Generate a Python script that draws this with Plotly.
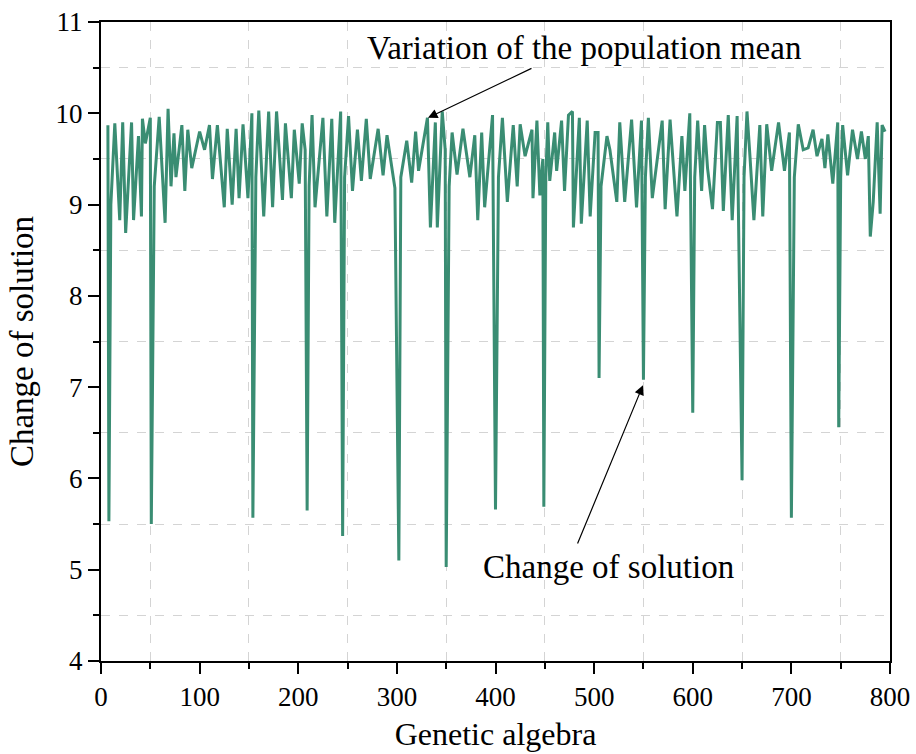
import plotly.graph_objects as go

generation = [
    7, 8, 10, 14, 19, 22, 25, 31, 33, 38, 41, 42, 45, 50, 51, 54, 59, 65, 68, 71,
    74, 76, 82, 85, 88, 92, 100, 105, 110, 113, 118, 125, 128, 133, 137, 140, 144, 149, 153, 154,
    157, 160, 165, 170, 174, 178, 184, 187, 193, 196, 201, 204, 207, 209, 211, 214, 217, 225, 229, 234,
    237, 243, 245, 247, 251, 255, 260, 264, 269, 273, 281, 286, 290, 298, 302, 304, 310, 315, 319, 322,
    331, 334, 339, 341, 346, 349, 350, 353, 356, 361, 367, 374, 379, 382, 386, 389, 397, 400, 403, 407,
    412, 418, 422, 425, 430, 437, 438, 442, 445, 448, 449, 451, 453, 455, 460, 462, 467, 470, 474, 478,
    479, 485, 487, 493, 496, 501, 504, 505, 507, 513, 516, 523, 526, 531, 538, 543, 548, 550, 552, 555,
    559, 569, 572, 577, 584, 589, 592, 597, 600, 602, 605, 609, 612, 615, 620, 625, 628, 631, 636, 640,
    645, 650, 652, 655, 658, 662, 668, 671, 675, 680, 687, 693, 698, 700, 703, 707, 712, 717, 722, 726,
    731, 734, 737, 742, 747, 748, 750, 752, 757, 762, 767, 771, 775, 778, 780, 783, 787, 790, 792, 795,
]
solution = [
    9.87, 5.53, 9.00, 9.89, 8.83, 9.90, 8.69, 9.90, 8.83, 9.75, 8.87, 9.94, 9.67, 9.95, 5.50, 9.20, 9.96, 8.80, 10.05, 9.20,
    9.78, 9.30, 9.87, 9.15, 9.82, 9.40, 9.80, 9.60, 9.87, 9.28, 9.87, 8.97, 9.83, 9.00, 9.83, 9.07, 9.88, 9.07, 10.00, 5.57,
    9.30, 10.03, 8.87, 10.02, 8.97, 10.02, 9.05, 9.89, 9.07, 9.82, 9.23, 9.89, 9.60, 5.65, 9.20, 9.98, 8.97, 9.95, 8.87, 9.94,
    8.80, 10.02, 5.37, 9.30, 9.97, 9.15, 9.82, 9.26, 9.94, 9.28, 9.83, 9.32, 9.76, 9.18, 5.10, 9.30, 9.70, 9.24, 9.80, 9.37,
    9.95, 8.75, 9.90, 8.75, 10.02, 9.60, 5.03, 9.20, 9.79, 9.33, 9.83, 9.30, 9.76, 8.83, 9.79, 8.97, 9.98, 5.66, 9.30, 9.95,
    9.03, 9.87, 9.20, 9.88, 9.53, 9.82, 9.07, 9.92, 9.10, 9.50, 5.69, 9.30, 9.90, 9.26, 9.79, 9.37, 9.92, 9.15, 9.98, 10.02,
    8.75, 9.95, 8.79, 9.92, 8.87, 9.79, 9.79, 7.10, 9.20, 9.75, 9.60, 9.03, 9.90, 9.03, 9.93, 8.97, 9.92, 7.08, 9.30, 9.95,
    9.07, 9.92, 8.95, 9.93, 8.87, 9.75, 9.15, 10.00, 6.72, 9.30, 9.92, 9.15, 9.87, 9.40, 8.95, 9.90, 9.90, 8.93, 9.98, 8.83,
    9.97, 5.98, 9.30, 10.02, 9.53, 8.83, 9.87, 8.87, 9.88, 9.37, 9.90, 9.37, 9.79, 5.57, 9.30, 9.88, 9.60, 9.62, 9.82, 9.53,
    9.72, 9.40, 9.77, 9.23, 9.90, 6.56, 9.30, 9.87, 9.32, 9.82, 9.50, 9.80, 9.50, 9.75, 8.65, 9.03, 9.90, 8.90, 9.87, 9.80,
]

x_ticks = [0, 100, 200, 300, 400, 500, 600, 700, 800]
x_minor = [50, 150, 250, 350, 450, 550, 650, 750]
y_ticks = [4, 5, 6, 7, 8, 9, 10, 11]
y_minor = [4.5, 5.5, 6.5, 7.5, 8.5, 9.5, 10.5]

label_mean = "Variation of the population mean"
label_solution = "Change of solution"

fig = go.Figure()
fig.add_trace(go.Scatter(
    x=generation, y=solution, mode="lines",
    line=dict(color="#3a8d73", width=3),
    showlegend=False,
))

axis_common = dict(
    showline=True, linewidth=2, linecolor="black", mirror=True,
    ticks="outside", ticklen=11, tickwidth=2, tickcolor="black",
    showgrid=False, zeroline=False, automargin=False,
    tickfont=dict(family="Liberation Serif", size=27, color="black"),
)

fig.update_xaxes(
    range=[0, 800], tickvals=x_ticks,
    title=dict(text="Genetic algebra", font=dict(family="Liberation Serif", size=32, color="black"), standoff=11),
    minor=dict(tickvals=x_minor, ticks="outside", ticklen=6, tickwidth=2, tickcolor="black",
               showgrid=True, gridcolor="#d4d4d4", griddash="dash", gridwidth=1),
    **axis_common,
)
fig.update_yaxes(
    range=[4, 11], tickvals=y_ticks,
    title=dict(text="Change of solution", font=dict(family="Liberation Serif", size=33, color="black"), standoff=12),
    minor=dict(tickvals=y_minor, ticks="outside", ticklen=6, tickwidth=2, tickcolor="black",
               showgrid=True, gridcolor="#d4d4d4", griddash="dash", gridwidth=1),
    **axis_common,
)

fig.add_annotation(x=489.7, y=10.715, xref="x", yref="y", text=label_mean, showarrow=False,
                   font=dict(family="Liberation Serif", size=33, color="black"))
fig.add_annotation(x=515, y=5.03, xref="x", yref="y", text=label_solution, showarrow=False,
                   font=dict(family="Liberation Serif", size=33, color="black"))
fig.add_annotation(x=331.5, y=9.95, ax=438, ay=10.5, xref="x", yref="y", axref="x", ayref="y",
                   text="", showarrow=True, arrowhead=2, arrowsize=1.6, arrowwidth=1.2, arrowcolor="black")
fig.add_annotation(x=549.5, y=7.02, ax=482.6, ay=5.27, xref="x", yref="y", axref="x", ayref="y",
                   text="", showarrow=True, arrowhead=2, arrowsize=1.6, arrowwidth=1.2, arrowcolor="black")

fig.update_layout(
    width=916, height=754,
    margin=dict(l=101, r=26, t=22, b=93),
    plot_bgcolor="white", paper_bgcolor="white",
    font=dict(family="Liberation Serif", color="black"),
    showlegend=False,
)

fig.write_html("out.html")
